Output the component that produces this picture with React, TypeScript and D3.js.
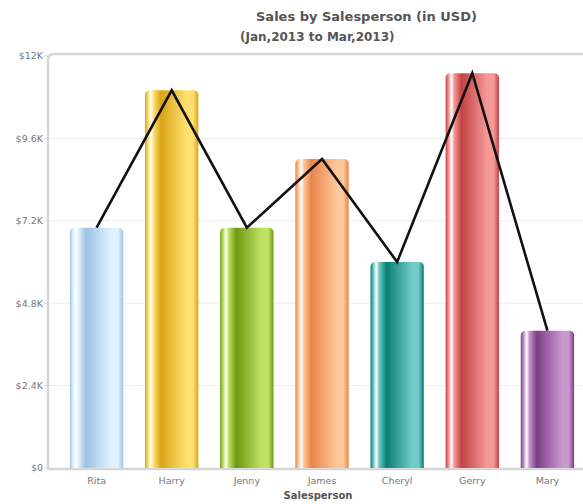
import * as d3 from 'd3';
import React from 'react';

// data
const salespeople = ['Rita', 'Harry', 'Jenny', 'James', 'Cheryl', 'Gerry', 'Mary'];
const sales = [7000, 11000, 7000, 9000, 6000, 11500, 4000];
const yTicks = [0, 2400, 4800, 7200, 9600, 12000];
const yTickLabels = ['$0', '$2.4K', '$4.8K', '$7.2K', '$9.6K', '$12K'];
const barDark = ['#9cc2e3', '#d9a416', '#6e9a10', '#e8844a', '#0a7d77', '#c24343', '#7c3d87'];
const barLight = ['#e0f2ff', '#ffe070', '#c0e264', '#ffc89a', '#70ccc6', '#f69898', '#c898d0'];

const W = 583;
const H = 504;
const plotLeft = 48;
const plotTop = 54;
const plotBottom = 469;

export default function App() {
  const x = d3
    .scaleBand<string>()
    .domain(salespeople)
    .range([59, 585])
    .paddingInner(0.29)
    .paddingOuter(0.145);

  const y = d3.scaleLinear().domain([0, 12000]).range([468, 56]);

  const linePath = d3
    .line<number>()
    .x((_, i) => x(salespeople[i])! + x.bandwidth() / 2)
    .y((d) => y(d))(sales);

  // bar with rounded top corners
  const barPath = (x0: number, w: number, top: number, bottom: number) => {
    const r = 5;
    return `M${x0},${bottom} L${x0},${top + r} Q${x0},${top} ${x0 + r},${top} L${x0 + w - r},${top} Q${x0 + w},${top} ${x0 + w},${top + r} L${x0 + w},${bottom} Z`;
  };

  return (
    <svg
      width={W}
      height={H}
      style={{ position: 'absolute', left: 0, top: 0, background: '#fff' }}
      fontFamily="'DejaVu Sans', Verdana, sans-serif"
    >
      <defs>
        {salespeople.map((p, i) => (
          <linearGradient key={p} id={`grad-${i}`} x1="0" x2="1" y1="0" y2="0">
            <stop offset="0%" stopColor={barDark[i]} />
            <stop offset="6%" stopColor={barLight[i]} />
            <stop offset="11%" stopColor="#ffffff" stopOpacity={0.9} />
            <stop offset="16%" stopColor={barLight[i]} />
            <stop offset="30%" stopColor={barDark[i]} />
            <stop offset="78%" stopColor={barLight[i]} />
            <stop offset="90%" stopColor={barLight[i]} />
            <stop offset="100%" stopColor={barDark[i]} />
          </linearGradient>
        ))}
      </defs>

      {/* title */}
      <text x={256} y={21} fontSize={13} fontWeight="bold" fill="#555">
        Sales by Salesperson (in USD)
      </text>
      <text x={240} y={41} fontSize={12} fontWeight="bold" fill="#555">
        (Jan,2013 to Mar,2013)
      </text>

      {/* grid lines */}
      {yTicks.slice(1, -1).map((t) => (
        <line key={t} x1={plotLeft} x2={W} y1={y(t)} y2={y(t)} stroke="#ececec" strokeWidth={1} />
      ))}

      {/* plot frame */}
      <path
        d={`M${W},${plotTop} L${plotLeft + 6},${plotTop} Q${plotLeft},${plotTop} ${plotLeft},${plotTop + 6} L${plotLeft},${plotBottom} L${W},${plotBottom}`}
        fill="none"
        stroke="#d6d6d6"
        strokeWidth={2.5}
      />

      {/* y tick labels */}
      {yTicks.map((t, i) => (
        <g key={t}>
          <line x1={plotLeft - 4} x2={plotLeft} y1={y(t)} y2={y(t)} stroke="#d6d6d6" />
          <text x={plotLeft - 5} y={y(t)} dy="0.35em" textAnchor="end" fontSize={9.5} fill="#777">
            {yTickLabels[i]}
          </text>
        </g>
      ))}

      {/* bars */}
      {salespeople.map((p, i) => (
        <path
          key={p}
          d={barPath(x(p)!, x.bandwidth(), y(sales[i]), y(0))}
          fill={`url(#grad-${i})`}
        />
      ))}

      {/* line */}
      <path d={linePath!} fill="none" stroke="#111" strokeWidth={2.6} strokeLinejoin="miter" />

      {/* x labels */}
      {salespeople.map((p) => (
        <text
          key={p}
          x={x(p)! + x.bandwidth() / 2}
          y={484}
          textAnchor="middle"
          fontSize={9.5}
          fill="#777"
        >
          {p}
        </text>
      ))}
      <text x={318} y={499} textAnchor="middle" fontSize={10} fontWeight="bold" fill="#555">
        Salesperson
      </text>
    </svg>
  );
}
